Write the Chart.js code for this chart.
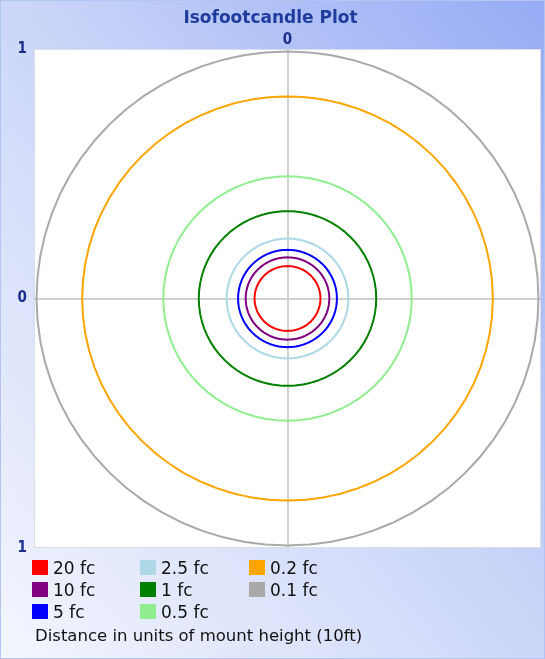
<!DOCTYPE html>
<html>
<head>
<meta charset="utf-8">
<script src="https://cdn.jsdelivr.net/npm/chart.js@4/dist/chart.umd.min.js"></script>
<style>
  html, body { margin: 0; padding: 0; }
  body {
    width: 545px; height: 659px; position: relative; overflow: hidden;
    background: linear-gradient(to bottom left, #96abf5 0%, #cad5f8 48%, #f4f6fe 100%);
    font-family: "DejaVu Sans", sans-serif;
  }
  #frame { position: absolute; left: 0; top: 0; width: 543px; height: 657px; border: 1px solid #b3c5f2; pointer-events: none; }
  #wrap { position: absolute; left: 0; top: 0; width: 545px; height: 659px; }
  #legend { position: absolute; left: 32px; top: 557px; }
  .item { position: absolute; white-space: nowrap; font-size: 17px; line-height: 22px; color: #111; }
  .box { position: absolute; left: 0; top: 3px; width: 16px; height: 15px; }
  .item span.t { position: absolute; left: 21px; top: 0; }
  #caption { position: absolute; left: 35px; top: 625px; font-size: 16.5px; line-height: 22px; color: #111; white-space: nowrap; }
</style>
</head>
<body>
<div id="wrap"><canvas id="c" width="545" height="659"></canvas></div>
<div id="legend"></div>
<div id="caption">Distance in units of mount height (10ft)</div>
<div id="frame"></div>
<script>
// Illuminance levels and the radius of each isofootcandle contour
// (in units of mount height).
const levels = ['20 fc', '10 fc', '5 fc', '2.5 fc', '1 fc', '0.5 fc', '0.2 fc', '0.1 fc'];
const radii  = [0.13, 0.165, 0.195, 0.24, 0.35, 0.49, 0.81, 0.99];
const colors = ['#ff0000', '#800080', '#0000ff', '#add8e6', '#008000', '#90ee90', '#ffa500', '#a9a9a9'];

// Axis ticks shown on the plot
const yTicks = [-1, 0, 1];
const xTicks = [0];

// Each contour is traced as a closed path around the luminaire at (0, 0).
function ring(r) {
  const pts = [];
  for (let a = 0; a <= 360; a += 5) {
    const t = a * Math.PI / 180;
    pts.push({ x: r * Math.sin(t), y: r * Math.cos(t) });
  }
  return pts;
}

const datasets = levels.map((lab, i) => ({
  label: lab,
  data: ring(radii[i]),
  borderColor: colors[i],
  backgroundColor: colors[i],
  borderWidth: 2,
  pointRadius: 0,
  showLine: true,
  fill: false,
  tension: 0.001
})).reverse();

// White plot area with a thin frame
const plotArea = {
  id: 'plotArea',
  beforeDraw(chart) {
    const { ctx, chartArea: a } = chart;
    ctx.save();
    ctx.fillStyle = '#ffffff';
    ctx.fillRect(a.left, a.top, a.right - a.left, a.bottom - a.top);
    ctx.strokeStyle = '#dcdde8';
    ctx.lineWidth = 1;
    ctx.strokeRect(a.left + 0.5, a.top + 0.5, a.right - a.left - 1, a.bottom - a.top - 1);
    ctx.restore();
  }
};

const tickFont = { family: '"DejaVu Sans Condensed", "DejaVu Sans", sans-serif', size: 15, weight: 'bold' };
const centerGrid = (c) => (c.tick && c.tick.value === 0 ? '#d0d0d0' : 'rgba(0,0,0,0)');

new Chart(document.getElementById('c'), {
  type: 'scatter',
  data: { datasets },
  options: {
    responsive: false,
    animation: false,
    events: [],
    layout: { padding: { top: 8, left: 0, right: 4, bottom: 111 } },
    plugins: {
      legend: { display: false },
      tooltip: { enabled: false },
      title: {
        display: true,
        text: 'Isofootcandle Plot',
        color: '#1f3d9e',
        font: { family: '"DejaVu Sans", sans-serif', size: 17, weight: 'bold' },
        padding: { top: 0, bottom: 0 }
      }
    },
    scales: {
      x: {
        type: 'linear', position: 'top', min: -1, max: 1,
        afterBuildTicks: (s) => { s.ticks = xTicks.map(v => ({ value: v })); },
        afterFit: (s) => { s.height = 20.6; },
        ticks: { color: '#1a2f8c', font: tickFont, padding: 0, autoSkip: false, maxRotation: 0,
                 callback: (v) => String(Math.abs(v)) },
        grid: { color: centerGrid, lineWidth: 2, drawTicks: false },
        border: { display: false }
      },
      y: {
        type: 'linear', position: 'left', min: -1, max: 1,
        afterBuildTicks: (s) => { s.ticks = yTicks.map(v => ({ value: v })); },
        afterFit: (s) => { s.width = 34; },
        ticks: { color: '#1a2f8c', font: tickFont, padding: 7, autoSkip: false,
                 callback: (v) => String(Math.abs(v)) },
        grid: { color: centerGrid, lineWidth: 2, drawTicks: false },
        border: { display: false }
      }
    }
  },
  plugins: [plotArea]
});

// Legend laid out in columns, top to bottom
const legend = document.getElementById('legend');
const colX = [0, 108, 217];
levels.forEach((lab, i) => {
  const col = Math.floor(i / 3), row = i % 3;
  const el = document.createElement('div');
  el.className = 'item';
  el.style.left = colX[col] + 'px';
  el.style.top = (row * 22) + 'px';
  el.innerHTML = '<div class="box" style="background:' + colors[i] + '"></div><span class="t"></span>';
  el.querySelector('.t').textContent = lab;
  legend.appendChild(el);
});
</script>
</body>
</html>
